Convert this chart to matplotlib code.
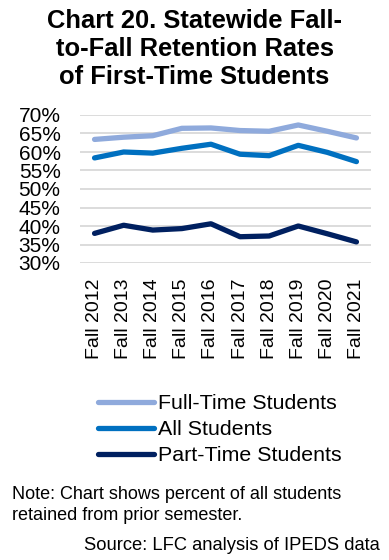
import matplotlib.pyplot as plt

plt.rcParams['font.family'] = ['Liberation Sans', 'DejaVu Sans']

# retention rates, percent
years = ['Fall 2012', 'Fall 2013', 'Fall 2014', 'Fall 2015', 'Fall 2016',
         'Fall 2017', 'Fall 2018', 'Fall 2019', 'Fall 2020', 'Fall 2021']
full_time = [63.4, 64.0, 64.4, 66.4, 66.5, 65.8, 65.6, 67.3, 65.6, 63.8]
all_students = [58.4, 60.0, 59.7, 61.0, 62.1, 59.4, 59.0, 61.8, 59.9, 57.4]
part_time = [38.0, 40.2, 38.9, 39.3, 40.6, 37.1, 37.3, 40.0, 37.9, 35.7]

y_ticks = [30, 35, 40, 45, 50, 55, 60, 65, 70]

fig = plt.figure(figsize=(3.89, 5.6), dpi=100)
W, H = 389, 560
ax = fig.add_axes([80 / W, 1 - 263 / H, 291 / W, 148 / H])

x = range(len(years))
ax.plot(x, full_time, color='#8FAADC', lw=3.8, label='Full-Time Students', solid_capstyle='round')
ax.plot(x, all_students, color='#0070C0', lw=3.8, label='All Students', solid_capstyle='round')
ax.plot(x, part_time, color='#002060', lw=3.8, label='Part-Time Students', solid_capstyle='round')

ax.set_xlim(-0.5, len(years) - 0.5)
ax.set_ylim(30, 70)
ax.set_yticks(y_ticks)
ax.set_yticklabels([f'{v}%' for v in y_ticks], fontsize=15)
ax.set_xticks(list(x))
ax.set_xticklabels(years, rotation=90, fontsize=14)
ax.tick_params(length=0)
ax.tick_params(axis='y', pad=14)
ax.tick_params(axis='x', pad=11)
ax.grid(axis='y', color='#D9D9D9', lw=1.3)
ax.set_axisbelow(True)
for s in ax.spines.values():
    s.set_visible(False)

fig.text(0.5, 1 - 9 / H, 'Chart 20. Statewide Fall-\nto-Fall Retention Rates\nof First-Time Students',
         ha='center', va='top', fontsize=18.4, fontweight='bold', linespacing=1.22)

fig.legend(loc='upper left', bbox_to_anchor=(94 / W, 1 - 390 / H), frameon=False,
           fontsize=15.4, handlelength=2.6, handletextpad=0.2, labelspacing=0.33,
           borderaxespad=0, borderpad=0.2)

fig.text(12 / W, 1 - 486 / H, 'Note: Chart shows percent of all students\nretained from prior semester.',
         ha='left', va='top', fontsize=13, linespacing=1.3)
fig.text(380 / W, 1 - 537 / H, 'Source: LFC analysis of IPEDS data',
         ha='right', va='top', fontsize=13.2)

fig.savefig('out.png', dpi=100)
